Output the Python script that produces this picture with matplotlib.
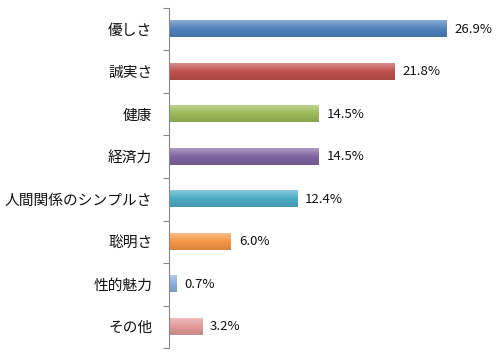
import matplotlib
matplotlib.use('Agg')
import matplotlib.pyplot as plt
import numpy as np
from matplotlib.colors import LinearSegmentedColormap, to_rgb

plt.rcParams['font.family'] = ['Noto Sans CJK JP', 'DejaVu Sans']

categories = ['優しさ', '誠実さ', '健康', '経済力', '人間関係のシンプルさ', '聡明さ', '性的魅力', 'その他']
values = [26.9, 21.8, 14.5, 14.5, 12.4, 6.0, 0.7, 3.2]
value_labels = ['26.9%', '21.8%', '14.5%', '14.5%', '12.4%', '6.0%', '0.7%', '3.2%']
colors = ['#4f81bd', '#c0504d', '#9bbb59', '#8064a2', '#4bacc6', '#f79646', '#8eaee0', '#e39a9a']


def shade(c, f):
    r, g, b = to_rgb(c)
    if f > 0:
        return (r + (1 - r) * f, g + (1 - g) * f, b + (1 - b) * f)
    return (r * (1 + f), g * (1 + f), b * (1 + f))


fig = plt.figure(figsize=(5.0, 3.57), dpi=100)
ax = fig.add_axes([0.338, 0.0252, 0.62, 0.9524])

n = len(categories)
y = np.arange(n)
h = 0.38
for i, (v, c) in enumerate(zip(values, colors)):
    cmap = LinearSegmentedColormap.from_list('g', [shade(c, 0.35), c, shade(c, -0.12)])
    grad = np.linspace(0, 1, 50).reshape(-1, 1)
    ax.imshow(grad, cmap=cmap, aspect='auto',
              extent=[0, v, y[i] + h / 2, y[i] - h / 2], zorder=2, interpolation='bilinear')
    ax.text(v + 0.75, y[i], value_labels[i], va='center', ha='left', fontsize=9.5, color='#111111')

ax.set_xlim(0, 30)
ax.set_ylim(n - 0.5, -0.5)

ax.set_yticks(np.arange(-0.5, n, 1))
ax.set_yticklabels([])
ax.set_yticks(y, minor=True)
ax.set_yticklabels(categories, minor=True, fontsize=10.6, color='#111111')
ax.tick_params(axis='y', which='major', length=4, color='#888888', width=0.8)
ax.tick_params(axis='y', which='minor', length=0, pad=12)
ax.set_xticks([])

for s in ['top', 'right', 'bottom']:
    ax.spines[s].set_visible(False)
ax.spines['left'].set_color('#888888')
ax.spines['left'].set_linewidth(0.8)

fig.savefig('out.png', dpi=100)
